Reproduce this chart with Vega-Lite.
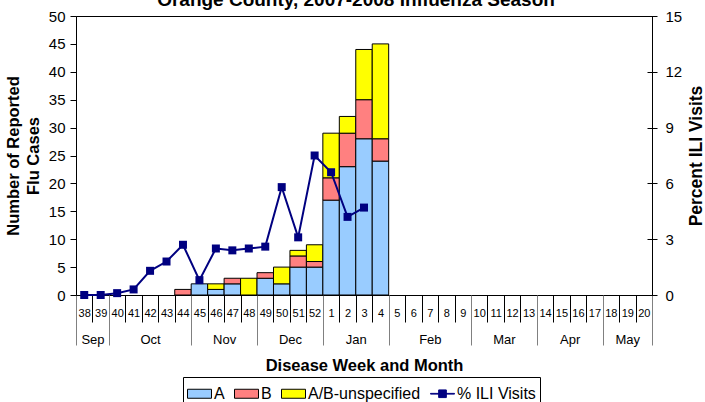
{
  "$schema": "https://vega.github.io/schema/vega-lite/v6.json",
  "width": 576,
  "height": 279,
  "autosize": {"type": "none"},
  "padding": {"left": 76, "top": 16, "right": 53, "bottom": 107},
  "config": {
    "font": "Liberation Sans",
    "view": {"stroke": "black", "strokeWidth": 1},
    "axis": {"grid": false, "labelColor": "black", "titleColor": "black", "domainColor": "black", "tickColor": "black", "labelFont": "Liberation Sans", "titleFont": "Liberation Sans"},
    "legend": {
      "title": null, "orient": "none", "direction": "horizontal", "columns": 4,
      "legendX": 107, "legendY": 361,
      "strokeColor": "black", "padding": 4,
      "symbolSize": 576, "symbolStrokeWidth": 1, "symbolOpacity": 1,
      "labelFontSize": 16, "labelFont": "Liberation Sans", "labelColor": "black", "labelOffset": 2, "columnPadding": 7
    }
  },
  "title": {"text": "Orange County, 2007-2008 Influenza Season", "fontSize": 19, "fontWeight": "bold", "font": "Liberation Sans", "color": "black", "baseline": "alphabetic", "offset": -3, "dy": 13, "dx": -8, "anchor": "middle"},
  "datasets": {
    "types": [
      {"type": "A", "rank": 1},
      {"type": "B", "rank": 2},
      {"type": "A/B-unspecified", "rank": 3}
    ],
    "bars": [
      {"week": "44", "type": "B", "n": 1},
      {"week": "45", "type": "A", "n": 2},
      {"week": "46", "type": "A", "n": 1},
      {"week": "46", "type": "A/B-unspecified", "n": 1},
      {"week": "47", "type": "A", "n": 2},
      {"week": "47", "type": "B", "n": 1},
      {"week": "48", "type": "A/B-unspecified", "n": 3},
      {"week": "49", "type": "A", "n": 3},
      {"week": "49", "type": "B", "n": 1},
      {"week": "50", "type": "A", "n": 2},
      {"week": "50", "type": "A/B-unspecified", "n": 3},
      {"week": "51", "type": "A", "n": 5},
      {"week": "51", "type": "B", "n": 2},
      {"week": "51", "type": "A/B-unspecified", "n": 1},
      {"week": "52", "type": "A", "n": 5},
      {"week": "52", "type": "B", "n": 1},
      {"week": "52", "type": "A/B-unspecified", "n": 3},
      {"week": "1", "type": "A", "n": 17},
      {"week": "1", "type": "B", "n": 4},
      {"week": "1", "type": "A/B-unspecified", "n": 8},
      {"week": "2", "type": "A", "n": 23},
      {"week": "2", "type": "B", "n": 6},
      {"week": "2", "type": "A/B-unspecified", "n": 3},
      {"week": "3", "type": "A", "n": 28},
      {"week": "3", "type": "B", "n": 7},
      {"week": "3", "type": "A/B-unspecified", "n": 9},
      {"week": "4", "type": "A", "n": 24},
      {"week": "4", "type": "B", "n": 4},
      {"week": "4", "type": "A/B-unspecified", "n": 17}
    ],
    "ili": [
      {"week": "38", "pct": 0},
      {"week": "39", "pct": 0},
      {"week": "40", "pct": 0.1},
      {"week": "41", "pct": 0.3},
      {"week": "42", "pct": 1.3},
      {"week": "43", "pct": 1.8},
      {"week": "44", "pct": 2.7},
      {"week": "45", "pct": 0.8},
      {"week": "46", "pct": 2.5},
      {"week": "47", "pct": 2.4},
      {"week": "48", "pct": 2.5},
      {"week": "49", "pct": 2.6},
      {"week": "50", "pct": 5.8},
      {"week": "51", "pct": 3.1},
      {"week": "52", "pct": 7.5},
      {"week": "1", "pct": 6.6},
      {"week": "2", "pct": 4.2},
      {"week": "3", "pct": 4.7}
    ],
    "months": [
      {"month": "Sep", "start": 0, "end": 2},
      {"month": "Oct", "start": 2, "end": 7},
      {"month": "Nov", "start": 7, "end": 11},
      {"month": "Dec", "start": 11, "end": 15},
      {"month": "Jan", "start": 15, "end": 19},
      {"month": "Feb", "start": 19, "end": 24},
      {"month": "Mar", "start": 24, "end": 28},
      {"month": "Apr", "start": 28, "end": 32},
      {"month": "May", "start": 32, "end": 35}
    ]
  },
  "layer": [
    {
      "data": {"name": "bars"},
      "transform": [{"lookup": "type", "from": {"data": {"name": "types"}, "key": "type", "fields": ["rank"]}}],
      "mark": {"type": "bar", "stroke": "#000000", "strokeWidth": 1},
      "encoding": {
        "x": {
          "field": "week", "type": "ordinal",
          "scale": {"type": "band", "domain": ["38","39","40","41","42","43","44","45","46","47","48","49","50","51","52","1","2","3","4","5","6","7","8","9","10","11","12","13","14","15","16","17","18","19","20"], "paddingInner": 0, "paddingOuter": 0},
          "axis": {"orient": "bottom", "title": null, "tickBand": "extent", "tickSize": 27, "tickColor": "#000000", "labelFontSize": 11, "labelPadding": -9, "labelBaseline": "middle", "labelAngle": 0, "labelOverlap": false, "labelFlush": false}
        },
        "y": {
          "field": "n", "type": "quantitative", "stack": "zero",
          "scale": {"domain": [0, 50], "nice": false},
          "axis": {"values": [0,5,10,15,20,25,30,35,40,45,50], "tickSize": 6, "labelPadding": 5, "labelFontSize": 15, "title": ["Number of Reported", "Flu Cases"], "titleFontSize": 16.5, "titleFontWeight": "bold", "titleLineHeight": 20, "titlePadding": 7}
        },
        "order": {"field": "rank", "type": "quantitative", "sort": "ascending"},
        "color": {
          "field": "type", "type": "nominal",
          "scale": {"domain": ["A", "B", "A/B-unspecified", "% ILI Visits"], "range": ["#99CCFF", "#FF8080", "#FFFF00", "#000080"]}
        }
      }
    },
    {
      "data": {"values": []},
      "mark": {"type": "point", "filled": true},
      "encoding": {
        "shape": {
          "field": "type", "type": "nominal",
          "scale": {"domain": ["A", "B", "A/B-unspecified", "% ILI Visits"], "range": ["M-1,-0.375H1V0.375H-1Z", "M-1,-0.375H1V0.375H-1Z", "M-1,-0.375H1V0.375H-1Z", "M-1,-0.03H1V0.03H-1ZM-0.32,-0.32H0.32V0.32H-0.32Z"]}
        },
        "stroke": {
          "field": "type", "type": "nominal",
          "scale": {"domain": ["A", "B", "A/B-unspecified", "% ILI Visits"], "range": ["#000000", "#000000", "#000000", "#000080"]}
        }
      }
    },
    {
      "data": {"name": "ili"},
      "mark": {"type": "line", "color": "#000080", "strokeWidth": 2, "point": {"shape": "square", "size": 64, "filled": true, "color": "#000080"}},
      "encoding": {
        "x": {
          "field": "week", "type": "ordinal",
          "scale": {"type": "band", "domain": ["38","39","40","41","42","43","44","45","46","47","48","49","50","51","52","1","2","3","4","5","6","7","8","9","10","11","12","13","14","15","16","17","18","19","20"], "paddingInner": 0, "paddingOuter": 0},
          "axis": null
        },
        "y": {
          "field": "pct", "type": "quantitative",
          "scale": {"domain": [0, 15], "nice": false},
          "axis": {"orient": "right", "values": [0,3,6,9,12,15], "offset": -5, "domain": false, "tickSize": 10, "labelPadding": 8, "labelFontSize": 15, "title": "Percent ILI Visits", "titleAngle": 270, "titleFontSize": 17.5, "titleFontWeight": "bold", "titlePadding": 24}
        }
      }
    },
    {
      "data": {"name": "months"},
      "mark": {"type": "point", "opacity": 0},
      "encoding": {
        "x": {
          "field": "start", "type": "quantitative",
          "scale": {"domain": [0, 35], "nice": false, "zero": false},
          "axis": {"orient": "bottom", "values": [0,2,7,11,15,19,24,28,32,35], "tickSize": 50, "tickColor": "#808080", "labels": false, "domain": false, "title": null, "grid": false}
        }
      }
    },
    {
      "data": {"name": "months"},
      "mark": {"type": "point", "opacity": 0},
      "encoding": {
        "x": {
          "field": "end", "type": "quantitative",
          "scale": {"domain": [0, 35], "nice": false, "zero": false},
          "axis": {"orient": "bottom", "values": [1,4.5,9,13,17,21.5,26,30,33.5], "labelExpr": "['Sep','Oct','Nov','Dec','Jan','Feb','Mar','Apr','May'][indexof([1,4.5,9,13,17,21.5,26,30,33.5], datum.value)]", "ticks": false, "tickSize": 0, "domain": false, "labelFontSize": 13, "labelPadding": 44, "labelBaseline": "middle", "labelOverlap": false, "labelFlush": false, "title": "Disease Week and Month", "titleFontSize": 16.5, "titleFontWeight": "bold", "titlePadding": 11}
        }
      }
    }
  ],
  "resolve": {"scale": {"x": "independent", "y": "independent"}, "axis": {"x": "independent", "y": "independent"}}
}
